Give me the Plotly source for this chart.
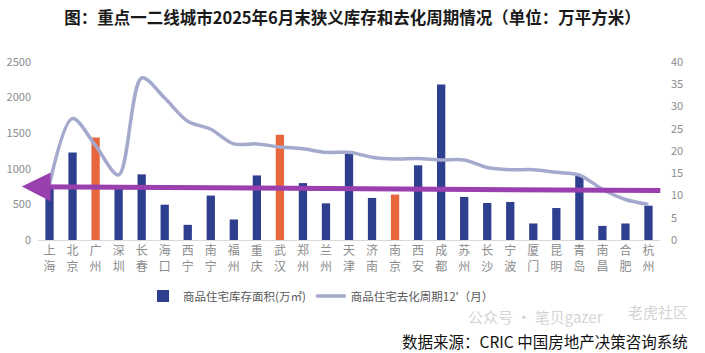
import plotly.graph_objects as go

cities = ["上海", "北京", "广州", "深圳", "长春", "海口", "西宁", "南宁", "福州", "重庆",
          "武汉", "郑州", "兰州", "天津", "济南", "南京", "西安", "成都", "苏州", "长沙",
          "宁波", "厦门", "昆明", "青岛", "南昌", "合肥", "杭州"]
inventory = [740, 1230, 1440, 718, 922, 496, 213, 624, 288, 907,
             1479, 799, 515, 1243, 591, 638, 1049, 2183, 605, 520,
             534, 232, 449, 898, 198, 232, 482]
cycle = [12.5, 27.3, 21.2, 14.6, 36.4, 31.9, 26.7, 24.9, 21.6, 21.6,
         20.9, 20.5, 19.7, 19.7, 18.6, 18.2, 18.3, 18.0, 18.0, 16.3,
         15.8, 15.8, 15.2, 14.6, 11.4, 9.1, 8.0]
highlight = ["广州", "武汉", "南京"]
left_ticks = [0, 500, 1000, 1500, 2000, 2500]
right_ticks = [0, 5, 10, 15, 20, 25, 30, 35, 40]

labels = ["<br>".join(list(c)) for c in cities]
blue = "#2f3f8f"
orange = "#e8663c"
colors = [orange if c in highlight else blue for c in cities]

FONT = "Noto Sans CJK SC"
GRAY = "#8c8c8c"

fig = go.Figure()
fig.add_trace(go.Bar(x=labels, y=inventory, marker=dict(color=colors, line_width=0),
                     name="商品住宅库存面积(万㎡)", yaxis="y"))
fig.add_trace(go.Scatter(x=labels, y=cycle, mode="lines",
                         line=dict(color="#a4a9cd", width=3.5, shape="spline", smoothing=0.9),
                         name="商品住宅去化周期12'（月）", yaxis="y2"))

# purple reference arrow (tip on the left)
fig.add_annotation(x=-0.026, y=750, xref="paper", yref="y", ax=640, ay=4, axref="pixel", ayref="pixel",
                   text="", showarrow=True, arrowhead=2, arrowsize=1.15, arrowwidth=5, arrowcolor="#9a3fae")

fig.add_annotation(x=0.912, y=-0.432, xref="paper", yref="paper", showarrow=False, xanchor="right",
                   yanchor="middle", text="公众号 · 笔贝gazer",
                   font=dict(family=FONT, size=15, color="#d4d4d4"))
fig.add_annotation(x=1.048, y=-0.40, xref="paper", yref="paper", showarrow=False, xanchor="right",
                   yanchor="middle", text="老虎社区", font=dict(family=FONT, size=15, color="#d4d4d4"))
fig.add_annotation(x=1.048, y=-0.565, xref="paper", yref="paper", showarrow=False, xanchor="right",
                   yanchor="middle", text="数据来源：CRIC 中国房地产决策咨询系统",
                   font=dict(family=FONT, size=15.5, color="#111111"))

fig.update_layout(
    width=705, height=353,
    margin=dict(l=38, r=45, t=62, b=113, autoexpand=False),
    paper_bgcolor="white", plot_bgcolor="white",
    title=dict(text="<b>图：重点一二线城市2025年6月末狭义库存和去化周期情况（单位：万平方米）</b>",
               x=0.5, xanchor="center", y=1 - 18 / 353, yanchor="middle", yref="container",
               font=dict(family=FONT, size=16.5, color="#1a1a1a")),
    bargap=0.64,
    showlegend=True,
    legend=dict(orientation="h", x=0.455, xanchor="center", y=-0.315, yanchor="middle",
                font=dict(family=FONT, size=11.5, color="#595959"), itemwidth=30, tracegroupgap=0),
    xaxis=dict(range=[-0.5, len(cities) - 0.5], showgrid=False, showline=True, linecolor="#d9d9d9",
               linewidth=1, ticks="", tickfont=dict(family=FONT, size=12, color=GRAY), tickangle=0,
               automargin=False),
    yaxis=dict(range=[0, 2500], tickvals=left_ticks, showgrid=False, zeroline=False, showline=False,
               tickfont=dict(family=FONT, size=11, color=GRAY), ticklabelstandoff=6, automargin=False),
    yaxis2=dict(range=[0, 40], tickvals=right_ticks, overlaying="y", side="right", showgrid=False,
                zeroline=False, showline=False, tickfont=dict(family=FONT, size=11, color=GRAY),
                ticklabelstandoff=10, automargin=False),
)

fig.write_html("out.html")
